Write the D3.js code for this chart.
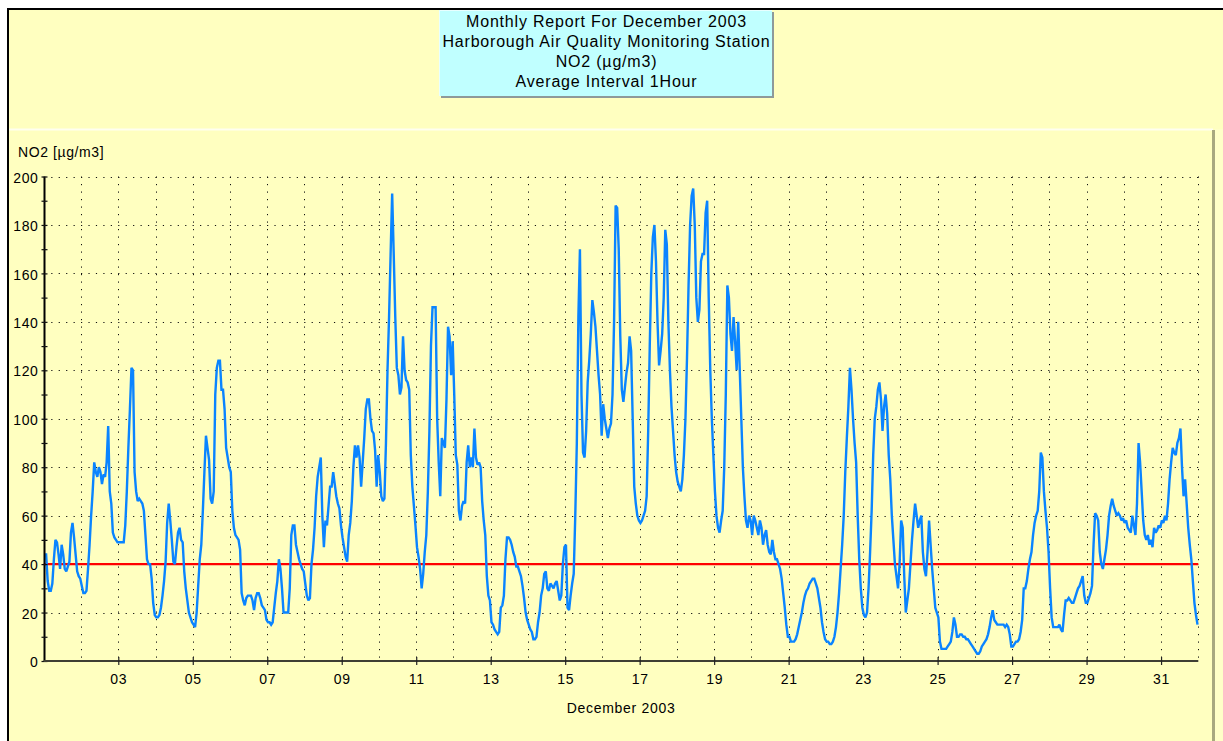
<!DOCTYPE html>
<html>
<head>
<meta charset="utf-8">
<script src="https://cdn.jsdelivr.net/npm/d3@7"></script>
<style>
  html, body { margin: 0; padding: 0; background: #ffffff; }
  svg { display: block; }
  text { font-family: "Liberation Sans", Arial, sans-serif; fill: #000; }
</style>
</head>
<body>
<svg id="chart" width="1223" height="741"></svg>
<script>
// ---- chart text ----
const titleLines = [
  "Monthly Report For December 2003",
  "Harborough Air Quality Monitoring Station",
  "NO2 (µg/m3)",
  "Average Interval 1Hour"
];
const yAxisTitle = "NO2 [µg/m3]";
const xAxisTitle = "December 2003";

// ---- axes ----
const dayLabels = ["03", "05", "07", "09", "11", "13", "15", "17", "19", "21", "23", "25", "27", "29", "31"];
const yTickValues = [0, 20, 40, 60, 80, 100, 120, 140, 160, 180, 200];
const yMinorValues = [10, 30, 50, 70, 90, 110, 130, 150, 170, 190];
const limitValue = 40; // annual mean objective

// ---- hourly NO2 (µg/m3), 1 Dec .. 31 Dec, one row per day ----
const no2Hourly = [
  44, 44, 33, 29, 29, 32, 42, 50, 49, 44, 38, 48, 44, 38, 37, 39, 41, 53, 57, 51, 44, 37, 35, 34,
  31, 28, 28, 29, 38, 48, 60, 70, 82, 78, 76, 80, 78, 73, 77, 76, 82, 97, 70, 65, 53, 51, 50, 49,
  49, 49, 49, 49, 56, 70, 88, 104, 121, 120, 78, 70, 66, 67, 66, 65, 62, 52, 42, 40, 40, 34, 24, 19,
  18, 18, 19, 22, 27, 33, 41, 57, 65, 58, 50, 41, 40, 47, 53, 55, 50, 49, 37, 30, 25, 20, 18, 16,
  15, 14, 20, 31, 42, 48, 62, 78, 93, 88, 83, 67, 65, 70, 110, 121, 124, 124, 112, 112, 104, 88, 84, 80,
  78, 62, 55, 52, 51, 50, 46, 28, 25, 23, 26, 27, 27, 27, 25, 21, 26, 28, 28, 26, 23, 22, 21, 17,
  16, 16, 15, 16, 22, 28, 33, 42, 38, 30, 20, 20, 20, 20, 30, 52, 56, 56, 48, 45, 42, 40, 38, 37,
  32, 27, 25, 26, 40, 46, 55, 68, 76, 80, 84, 60, 47, 58, 56, 64, 72, 72, 78, 73, 68, 65, 63, 56,
  51, 47, 43, 41, 52, 57, 66, 80, 89, 84, 89, 84, 72, 82, 92, 104, 108, 108, 100, 95, 94, 87, 72, 85,
  78, 68, 66, 67, 90, 120, 142, 168, 193, 168, 142, 121, 118, 110, 113, 134, 120, 116, 115, 112, 85, 72, 64, 56,
  47, 43, 38, 30, 36, 45, 52, 70, 95, 130, 146, 146, 146, 100, 82, 68, 92, 90, 88, 108, 138, 134, 118, 132,
  110, 85, 81, 62, 58, 64, 66, 65, 82, 89, 80, 84, 80, 96, 84, 81, 82, 80, 66, 58, 52, 35, 27, 25,
  16, 15, 13, 12, 11, 12, 22, 23, 27, 42, 51, 51, 50, 48, 45, 43, 39, 39, 37, 35, 31, 26, 20, 17,
  15, 13, 12, 9, 9, 10, 16, 20, 27, 30, 36, 37, 30, 29, 32, 31, 30, 32, 33, 29, 25, 27, 40, 47,
  48, 22, 21, 27, 32, 36, 60, 90, 142, 170, 110, 86, 84, 95, 115, 124, 135, 149, 144, 138, 128, 118, 110, 93,
  106, 100, 96, 92, 96, 98, 110, 140, 188, 187, 170, 134, 112, 107, 113, 119, 123, 134, 128, 100, 72, 65, 60, 58,
  57, 58, 60, 62, 68, 95, 130, 160, 175, 180, 165, 140, 122, 128, 135, 150, 178, 172, 140, 120, 105, 95, 85, 78,
  74, 72, 70, 75, 85, 100, 125, 155, 180, 192, 195, 180, 150, 140, 145, 165, 168, 168, 185, 190, 150, 120, 100, 85,
  70, 60, 55, 53, 58, 62, 80, 110, 155, 150, 135, 128, 142, 132, 120, 140, 120, 100, 80, 68, 58, 55, 60, 58,
  52, 60, 58, 55, 52, 58, 55, 48, 52, 54, 48, 45, 44, 50, 45, 42, 42, 40, 38, 34, 28, 22, 15, 10,
  10, 8, 8, 8, 9, 11, 14, 17, 20, 24, 27, 29, 30, 32, 33, 34, 34, 32, 30, 26, 22, 16, 12, 9,
  8, 8, 7, 7, 8, 10, 14, 20, 28, 38, 48, 60, 78, 92, 105, 121, 112, 100, 90, 82, 60, 42, 30, 22,
  19, 18, 20, 30, 45, 62, 85, 100, 105, 112, 115, 108, 95, 105, 110, 102, 85, 75, 60, 50, 40, 35, 30, 40,
  58, 55, 35, 20, 25, 30, 40, 50, 58, 65, 60, 55, 58, 60, 45, 38, 35, 45, 58, 48, 38, 30, 22, 20,
  18, 8, 5, 5, 5, 5, 6, 7, 8, 12, 18, 15, 10, 10, 11, 11, 10, 10, 9, 9, 8, 7, 6, 5,
  4, 3, 3, 4, 6, 7, 8, 9, 11, 14, 18, 21, 17, 16, 15, 15, 15, 15, 15, 14, 15, 14, 11, 6,
  6, 7, 8, 8, 9, 12, 17, 30, 30, 33, 38, 42, 45, 52, 57, 60, 62, 70, 86, 84, 70, 62, 55, 45,
  30, 18, 14, 14, 14, 14, 15, 13, 12, 19, 25, 25, 26, 25, 24, 24, 26, 28, 30, 31, 33, 35, 27, 24,
  24, 26, 28, 31, 48, 61, 60, 58, 45, 40, 38, 42, 46, 52, 60, 64, 67, 64, 62, 60, 61, 60, 58, 59,
  57, 58, 55, 54, 53, 60, 56, 52, 65, 90, 82, 70, 58, 52, 50, 52, 48, 50, 47, 55, 53, 54, 56, 55,
  58, 57, 60, 58, 65, 75, 82, 88, 86, 85, 90, 92, 96, 80, 68, 75, 65, 55, 48, 42, 33, 24, 19, 15
];

// ---- drawing ----
const W = 1223, H = 741;
const monthStart = new Date(Date.UTC(2003, 11, 1));
const monthEnd = new Date(Date.UTC(2004, 0, 1));
const HOUR = 3600 * 1000;

const x = d3.scaleUtc().domain([monthStart, monthEnd]).range([43.8, 1198.3]);
const y = d3.scaleLinear().domain([0, 200]).range([661, 176.5]);

const svg = d3.select("#chart");

// window frame and yellow background
svg.append("rect").attr("x", 0).attr("y", 0).attr("width", W).attr("height", H).attr("fill", "#ffffff");
svg.append("rect").attr("x", 8).attr("y", 9).attr("width", W).attr("height", H)
  .attr("fill", "#ffffc0").attr("stroke", "#000").attr("stroke-width", 2);

// lower panel bevel: highlight on top, shadow on the right
svg.append("line").attr("x1", 9).attr("x2", 1213).attr("y1", 129.5).attr("y2", 129.5)
  .attr("stroke", "#fffff0").attr("stroke-width", 2);
svg.append("rect").attr("x", 1215).attr("y", 129).attr("width", 8).attr("height", H)
  .attr("fill", "#ffffc8");
svg.append("line").attr("x1", 1213.5).attr("x2", 1213.5).attr("y1", 130).attr("y2", H)
  .attr("stroke", "#a8a880").attr("stroke-width", 3);

// title box
const tb = { x: 439, y: 10, w: 333, h: 86 };
svg.append("rect").attr("x", tb.x + 2).attr("y", tb.y + 2).attr("width", tb.w).attr("height", tb.h)
  .attr("fill", "#8e9a9a");
svg.append("rect").attr("x", tb.x).attr("y", tb.y).attr("width", tb.w).attr("height", tb.h)
  .attr("fill", "#c0ffff");
svg.append("path").attr("d", `M${tb.x + 0.5},${tb.y + tb.h}V${tb.y + 0.5}H${tb.x + tb.w}`)
  .attr("fill", "none").attr("stroke", "#e8ffff").attr("stroke-width", 1);
svg.append("g").selectAll("text").data(titleLines).join("text")
  .attr("x", tb.x + tb.w / 2 + 1)
  .attr("y", (d, i) => 27 + i * 20)
  .attr("text-anchor", "middle")
  .attr("font-size", 16)
  .attr("letter-spacing", 0.8)
  .text(d => d);

// dotted grid
const gridDays = d3.utcDay.range(d3.utcDay.offset(monthStart, 1), d3.utcDay.offset(monthEnd, 1));
svg.append("g").selectAll("line").data(yTickValues.filter(v => v > 0)).join("line")
  .attr("x1", x(monthStart)).attr("x2", x(monthEnd))
  .attr("y1", d => Math.round(y(d)) + 0.5).attr("y2", d => Math.round(y(d)) + 0.5)
  .attr("stroke", "#111").attr("stroke-width", 1).attr("stroke-dasharray", "1.2 6.24");
svg.append("g").selectAll("line").data(gridDays).join("line")
  .attr("x1", d => Math.round(x(d)) + 0.5).attr("x2", d => Math.round(x(d)) + 0.5)
  .attr("y1", y(200)).attr("y2", y(0))
  .attr("stroke", "#111").attr("stroke-width", 1).attr("stroke-dasharray", "1.2 6.3");

// limit line
svg.append("line")
  .attr("x1", x(monthStart)).attr("x2", x(monthEnd))
  .attr("y1", y(limitValue)).attr("y2", y(limitValue))
  .attr("stroke", "#ff0000").attr("stroke-width", 2.4);

// hourly series, each value placed at the middle of its hour
const series = no2Hourly.map((v, i) => ({ t: new Date(monthStart.getTime() + (i + 0.5) * HOUR), v }));
const line = d3.line().x(d => x(d.t)).y(d => y(d.v));
svg.append("path").datum(series)
  .attr("d", line)
  .attr("fill", "none")
  .attr("stroke", "#0a84ff")
  .attr("stroke-width", 2.4)
  .attr("stroke-linejoin", "miter")
  .attr("stroke-miterlimit", 2);

// y axis
const yAxis = d3.axisLeft(y)
  .tickValues(yTickValues.concat(yMinorValues))
  .tickSize(3)
  .tickPadding(6)
  .tickFormat(d => (d % 20 === 0 ? d : ""));
const gy = svg.append("g").attr("transform", `translate(${x(monthStart) + 0.7},0)`).call(yAxis);
gy.select(".domain").attr("stroke", "#000").attr("stroke-width", 2).attr("d", `M0,${y(0)}V${y(200)}`);
gy.selectAll(".tick line").attr("x1", -3).attr("x2", 3).attr("stroke", "#111").attr("stroke-width", 1.2);
gy.selectAll(".tick text").attr("font-size", 14).attr("letter-spacing", 0.6).attr("dy", "0.4em").attr("x", -6);

// x axis
const xTickDates = dayLabels.map(s => new Date(Date.UTC(2003, 11, +s)));
const xAxis = d3.axisBottom(x)
  .tickValues(xTickDates)
  .tickSize(4)
  .tickPadding(9)
  .tickFormat((d, i) => dayLabels[i]);
const gx = svg.append("g").attr("transform", `translate(0,${y(0)})`).call(xAxis);
gx.select(".domain").attr("stroke", "#3f3f33").attr("stroke-width", 2)
  .attr("d", `M${x(monthStart)},0H${x(monthEnd)}`);
gx.selectAll(".tick line").attr("y1", -4).attr("y2", 4).attr("stroke", "#222").attr("stroke-width", 1.2);
gx.selectAll(".tick text").attr("font-size", 14).attr("letter-spacing", 0.7);

// axis titles
svg.append("text").attr("x", 18).attr("y", 157).attr("font-size", 14).attr("letter-spacing", 0.6)
  .text(yAxisTitle);
svg.append("text").attr("x", (x(monthStart) + x(monthEnd)) / 2).attr("y", 713)
  .attr("text-anchor", "middle").attr("font-size", 14).attr("letter-spacing", 0.7)
  .text(xAxisTitle);
</script>
</body>
</html>
